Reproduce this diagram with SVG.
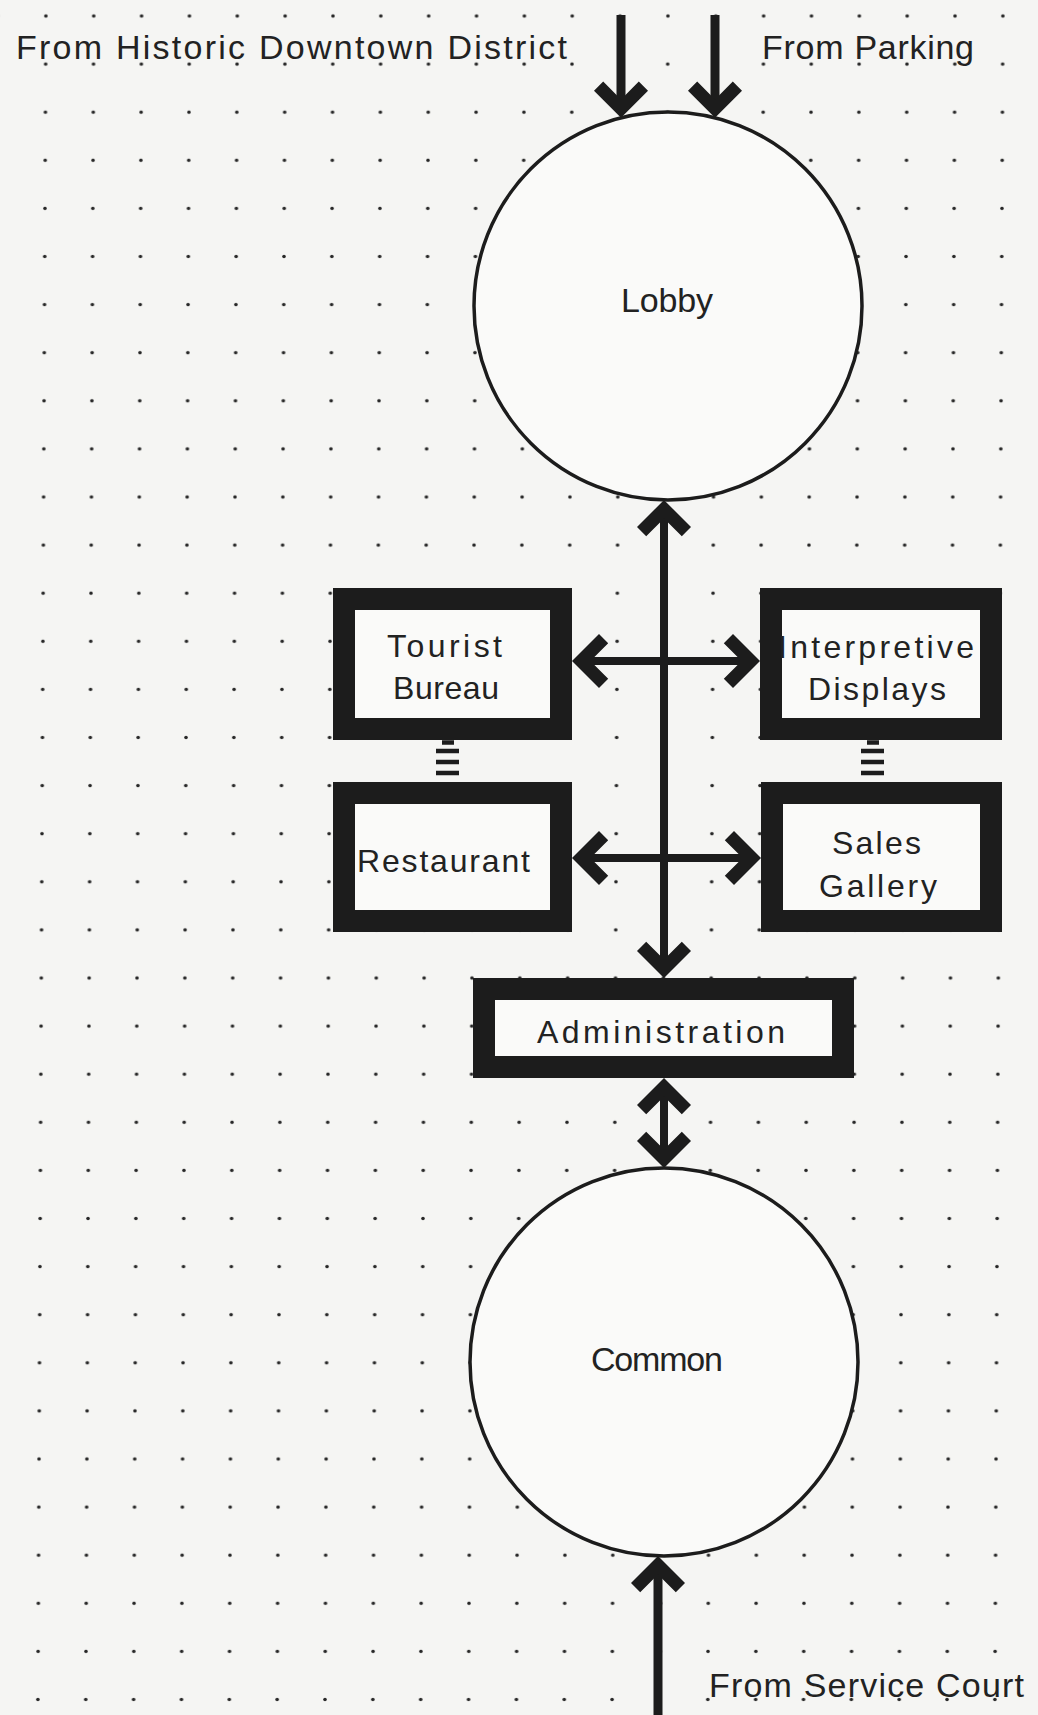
<svg xmlns="http://www.w3.org/2000/svg" width="1038" height="1715" viewBox="0 0 1038 1715">
<style>
.bg{fill:#f5f5f3}
.box{fill:#fafaf9;stroke:#1c1c1c;stroke-width:22}
.circ{fill:#fafaf9;stroke:#1c1c1c;stroke-width:3.5}
.lbl{font-family:"Liberation Sans",Arial,sans-serif;font-size:32px;fill:#222}
.big{font-size:34px}
.conn{fill:none;stroke:#1c1c1c;stroke-width:8}
.entry{stroke-width:9}
.one{marker-end:url(#ah)}
.two{marker-start:url(#ah);marker-end:url(#ah)}
.ladder{fill:none;stroke:#1c1c1c;stroke-width:4.5}
</style>
<defs>
<pattern id="dots" patternUnits="userSpaceOnUse" width="47.85" height="48.1" patternTransform="translate(22.08 -8.05) skewX(-0.272)">
<circle cx="23.925" cy="24.05" r="1.8" fill="#262626"/>
</pattern>
<marker id="ah" markerUnits="userSpaceOnUse" orient="auto-start-reverse" refX="-5" refY="0" markerWidth="1" markerHeight="1" style="overflow:visible">
<path d="M0,0 L-27,-27 L-36.2,-17.8 L-18.4,0 L-36.2,17.8 L-27,27 Z" fill="#1c1c1c"/>
</marker>
</defs>
<rect class="bg" x="0" y="0" width="1038" height="1715"/>
<rect x="0" y="0" width="1038" height="1715" fill="url(#dots)"/>

<g id="label-downtown"><text class="lbl big" x="16" y="59" textLength="551" lengthAdjust="spacing">From Historic Downtown District</text></g>
<g id="label-parking"><text class="lbl big" x="762" y="59" textLength="212" lengthAdjust="spacing">From Parking</text></g>
<g id="label-service"><text class="lbl big" x="709" y="1697" textLength="315" lengthAdjust="spacing">From Service Court</text></g>

<g id="lobby">
<circle class="circ" cx="668" cy="306" r="194"/>
<text class="lbl big" x="621" y="312" textLength="92" lengthAdjust="spacing">Lobby</text>
</g>
<g id="tourist-bureau">
<rect class="box" x="344" y="599" width="217" height="130"/>
<text class="lbl" x="387" y="657" textLength="115" lengthAdjust="spacing">Tourist</text>
<text class="lbl" x="393" y="699" textLength="106" lengthAdjust="spacing">Bureau</text>
</g>
<g id="interpretive-displays">
<rect class="box" x="771" y="599" width="220" height="130"/>
<text class="lbl" x="778" y="658" textLength="196" lengthAdjust="spacing">Interpretive</text>
<text class="lbl" x="808" y="700" textLength="138" lengthAdjust="spacing">Displays</text>
</g>
<g id="restaurant">
<rect class="box" x="344" y="793" width="217" height="128"/>
<text class="lbl" x="357" y="872" textLength="173" lengthAdjust="spacing">Restaurant</text>
</g>
<g id="sales-gallery">
<rect class="box" x="772" y="793" width="219" height="128"/>
<text class="lbl" x="832" y="854" textLength="89" lengthAdjust="spacing">Sales</text>
<text class="lbl" x="819" y="897" textLength="118" lengthAdjust="spacing">Gallery</text>
</g>
<g id="administration">
<rect class="box" x="484" y="989" width="359" height="78"/>
<text class="lbl" x="537" y="1043" textLength="248" lengthAdjust="spacing">Administration</text>
</g>
<g id="common">
<circle class="circ" cx="664" cy="1362" r="194"/>
<text class="lbl big" x="591" y="1371" textLength="132" lengthAdjust="spacing">Common</text>
</g>

<g id="connectors">
<line class="conn entry one" x1="621" y1="15" x2="621" y2="112.8"/>
<line class="conn entry one" x1="715" y1="15" x2="715" y2="112.8"/>
<line class="conn two" x1="664" y1="505" x2="664" y2="973"/>
<line class="conn two" x1="577" y1="661" x2="755" y2="661"/>
<line class="conn two" x1="577" y1="858" x2="756" y2="858"/>
<line class="conn two" x1="664" y1="1083" x2="664" y2="1163"/>
<line class="conn entry one" x1="658" y1="1715" x2="658" y2="1561"/>
<path class="ladder" d="M442,742.5 h12 M436,751 h23 M436,762 h23 M436,773 h23"/>
<path class="ladder" d="M867,742.5 h12 M861,751 h23 M861,762 h23 M861,773 h23"/>
</g>
</svg>
